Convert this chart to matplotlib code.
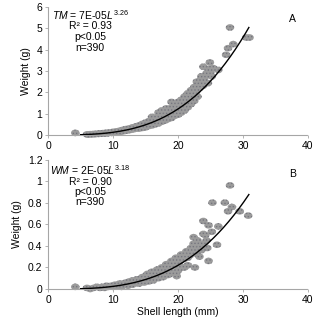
import numpy as np
import matplotlib
matplotlib.use("Agg")
import matplotlib.pyplot as plt
from matplotlib.path import Path

plt.rcParams['font.family'] = ['Liberation Sans', 'DejaVu Sans']
plt.rcParams['mathtext.fontset'] = 'custom'
plt.rcParams['mathtext.rm'] = 'Liberation Sans'
plt.rcParams['mathtext.it'] = 'Liberation Sans:italic'
plt.rcParams['hatch.linewidth'] = 0.6

# ---- Panel A: total mass (TM) vs shell length ----
len_A = [4.2,
         6.0, 6.2, 6.5, 6.8, 7.0, 7.3, 7.5, 7.8, 8.0, 8.3, 8.5, 8.8, 9.0, 9.2, 9.5, 9.8,
         10.0, 10.2, 10.5, 10.7, 11.0, 11.2, 11.5, 11.7, 12.0, 12.2, 12.5, 12.7, 13.0, 13.2, 13.5, 13.7,
         14.0, 14.0, 14.3, 14.5, 14.5, 14.8, 15.0, 15.0, 15.3, 15.5, 15.5, 15.8, 16.0, 16.0, 16.3,
         16.5, 16.5, 16.8, 17.0, 17.0, 17.3, 17.5, 17.5, 17.8,
         18.0, 18.0, 18.2, 18.5, 18.5, 18.8, 19.0, 19.0, 19.2, 19.5, 19.5, 19.8, 20.0, 20.0, 20.2,
         20.5, 20.5, 20.8, 21.0, 21.0, 21.3, 21.5, 21.5, 21.8,
         22.0, 22.0, 22.3, 22.5, 22.5, 22.8, 23.0, 23.0, 23.3, 23.5, 23.8, 23.9, 24.2, 24.6, 24.9,
         25.0, 25.4, 26.2,
         27.4, 27.7, 28.0, 28.5, 30.5, 31.0,
         10.3, 10.8, 11.3, 11.8, 12.3, 12.8, 13.3, 13.8, 14.2, 14.7, 15.2, 15.7, 16.2, 16.7, 17.2,
         17.7, 18.3, 18.7, 19.3, 19.7, 20.3, 20.7, 21.2, 21.7, 22.2, 22.7, 23.2, 23.7, 24.0, 24.4,
         23.6, 22.9, 24.8, 25.2, 19.0, 18.2, 16.0, 17.5, 17.0]
wt_A = [0.10,
        0.03, 0.02, 0.04, 0.03, 0.05, 0.04, 0.06, 0.05, 0.08, 0.06, 0.09, 0.07, 0.11, 0.08, 0.12, 0.10,
        0.15, 0.11, 0.17, 0.13, 0.20, 0.15, 0.24, 0.18, 0.28, 0.21, 0.31, 0.24, 0.36, 0.27, 0.40, 0.31,
        0.45, 0.30, 0.38, 0.52, 0.33, 0.44, 0.58, 0.36, 0.50, 0.65, 0.42, 0.55, 0.72, 0.45, 0.62,
        0.80, 0.50, 0.68, 0.88, 0.55, 0.75, 0.95, 0.62, 0.82,
        1.05, 0.68, 0.90, 1.15, 0.75, 1.00, 1.28, 0.80, 1.10, 1.40, 0.90, 1.20, 1.55, 0.95, 1.30,
        1.65, 1.05, 1.45, 1.80, 1.15, 1.60, 1.95, 1.30, 1.75,
        2.10, 1.45, 1.90, 2.25, 1.60, 2.05, 2.40, 1.80, 2.20, 2.60, 2.30, 3.20, 2.75, 2.43, 3.40,
        2.95, 3.14, 3.05,
        3.76, 4.07, 5.04, 4.26, 4.57, 4.57,
        0.13, 0.16, 0.19, 0.22, 0.26, 0.30, 0.33, 0.37, 0.42, 0.46, 0.52, 0.57, 0.64, 0.70, 0.78,
        0.86, 0.95, 1.08, 1.18, 1.30, 1.42, 1.55, 1.70, 1.85, 2.00, 2.15, 2.35, 2.50, 2.60, 2.90,
        2.75, 2.50, 3.10, 2.75, 1.55, 1.25, 0.85, 1.15, 1.05]

# ---- Panel B: wet mass (WM) vs shell length ----
len_B = [4.2,
         6.0, 6.5, 7.0, 7.5, 8.0, 8.3, 8.7, 9.0, 9.3, 9.7, 10.0, 10.3, 10.6, 11.0, 11.3, 11.6,
         12.0, 12.3, 12.6, 13.0, 13.0, 13.4, 13.7, 14.0, 14.2, 14.5, 14.8, 15.0, 15.3, 15.5, 15.8,
         16.0, 16.2, 16.5, 16.8, 17.0, 17.2, 17.5, 17.7, 18.0, 18.2, 18.3, 18.5, 18.7, 19.0, 19.2,
         19.5, 19.7, 20.0, 20.2, 20.5, 20.7, 21.0, 21.3, 21.5, 21.8, 22.0, 22.4, 22.4, 22.6, 22.8,
         23.0, 23.0, 23.3, 23.6, 23.9, 23.9, 24.4, 24.7, 24.7, 25.2, 25.3, 26.0, 26.2,
         27.2, 27.7, 28.0, 28.3, 29.5, 30.8,
         10.5, 11.5, 12.5, 13.5, 14.5, 15.0, 15.5, 16.0, 16.5, 17.0, 17.5, 18.0, 18.5, 19.0, 19.5,
         20.0, 20.5, 21.0, 21.5, 22.0, 22.5, 23.0, 23.5, 24.0, 24.5, 21.0, 19.8, 22.4, 21.8, 24.2]
wt_B = [0.02,
        0.01, 0.00, 0.01, 0.02, 0.01, 0.02, 0.01, 0.03, 0.02, 0.03, 0.02, 0.04, 0.03, 0.05, 0.02, 0.04,
        0.06, 0.03, 0.05, 0.08, 0.04, 0.06, 0.09, 0.05, 0.08, 0.11, 0.06, 0.10, 0.14, 0.07, 0.12,
        0.16, 0.08, 0.13, 0.18, 0.10, 0.15, 0.20, 0.11, 0.17, 0.23, 0.13, 0.13, 0.19, 0.26, 0.15,
        0.22, 0.29, 0.17, 0.25, 0.32, 0.20, 0.28, 0.35, 0.22, 0.31, 0.38, 0.40, 0.48, 0.20, 0.33,
        0.42, 0.45, 0.30, 0.36, 0.51, 0.63, 0.45, 0.59, 0.26, 0.53, 0.80, 0.41, 0.58,
        0.80, 0.72, 0.96, 0.76, 0.72, 0.68,
        0.03, 0.05, 0.07, 0.08, 0.09, 0.12, 0.11, 0.12, 0.16, 0.14, 0.17, 0.20, 0.19, 0.21, 0.25,
        0.23, 0.27, 0.30, 0.29, 0.34, 0.37, 0.36, 0.40, 0.42, 0.38, 0.20, 0.12, 0.42, 0.35, 0.50]

# fitted power curves (coefficient, exponent) as drawn
fit_A = (7e-5, 3.26)
fit_B = (1.6e-5, 3.18)
fit_range = (5.0, 30.9)

xticks = [0, 10, 20, 30, 40]
yticks_A = [0, 1, 2, 3, 4, 5, 6]
yticks_B = [0, 0.2, 0.4, 0.6, 0.8, 1.0, 1.2]
ytick_labels_B = ['0', '0.2', '0.4', '0.6', '0.8', '1', '1.2']

fig = plt.figure(figsize=(3.20, 3.21), dpi=100)
axA = fig.add_axes([0.15, 0.5794, 0.8125, 0.3988])
axB = fig.add_axes([0.15, 0.0997, 0.8125, 0.4034])

# ellipse marker (slightly wider than tall)
t = np.linspace(0, 2 * np.pi, 40)
ell = Path(np.column_stack([1.3 * np.cos(t), np.sin(t)]), closed=True)

FS = 7.5
spine_col = '#a6a6a6'

def style(ax, yticks, ylabels, ymax):
    ax.set_xlim(0, 40)
    ax.set_ylim(0, ymax)
    ax.set_xticks(xticks)
    ax.set_yticks(yticks)
    ax.set_yticklabels(ylabels)
    for s in ['top', 'right']:
        ax.spines[s].set_visible(False)
    for s in ['left', 'bottom']:
        ax.spines[s].set_color(spine_col)
        ax.spines[s].set_linewidth(0.8)
        ax.spines[s].set_linestyle((0, (1, 1)))
    ax.tick_params(axis='both', labelsize=FS, length=2, width=0.6, color=spine_col,
                   pad=2, labelcolor='#000000')
    ax.set_ylabel('Weight (g)', fontsize=FS, labelpad=4)

def panel(ax, L, W, fit):
    ax.scatter(L, W, s=38, marker=ell, facecolor='#9b9b9b', edgecolor='#75757f',
               linewidths=0, hatch='.....', zorder=2, clip_on=False)
    xs = np.linspace(fit_range[0], fit_range[1], 200)
    ax.plot(xs, fit[0] * xs ** fit[1], color='black', lw=1.0, zorder=3)

panel(axA, len_A, wt_A, fit_A)
style(axA, yticks_A, [str(v) for v in yticks_A], 6)
panel(axB, len_B, wt_B, fit_B)
style(axB, yticks_B, ytick_labels_B, 1.2)
axB.set_xlabel('Shell length (mm)', fontsize=FS, labelpad=2)

def annot(ax, lines, x, ys):
    for txt, y in zip(lines, ys):
        ax.text(x, y, txt, fontsize=FS, ha='center', va='center', transform=ax.transAxes)

annot(axA, [r'$\mathit{TM}$ = 7E-05$\mathit{L}^{3.26}$', 'R² = 0.93', 'p<0.05', 'n=390'],
      0.162, [0.935, 0.848, 0.765, 0.68])
annot(axB, [r'$\mathit{WM}$ = 2E-05$\mathit{L}^{3.18}$', 'R² = 0.90', 'p<0.05', 'n=390'],
      0.162, [0.915, 0.828, 0.75, 0.672])
axA.text(0.94, 0.905, 'A', fontsize=FS, ha='center', va='center', transform=axA.transAxes)
axB.text(0.94, 0.89, 'B', fontsize=FS, ha='center', va='center', transform=axB.transAxes)

fig.savefig('out.png', dpi=100)
